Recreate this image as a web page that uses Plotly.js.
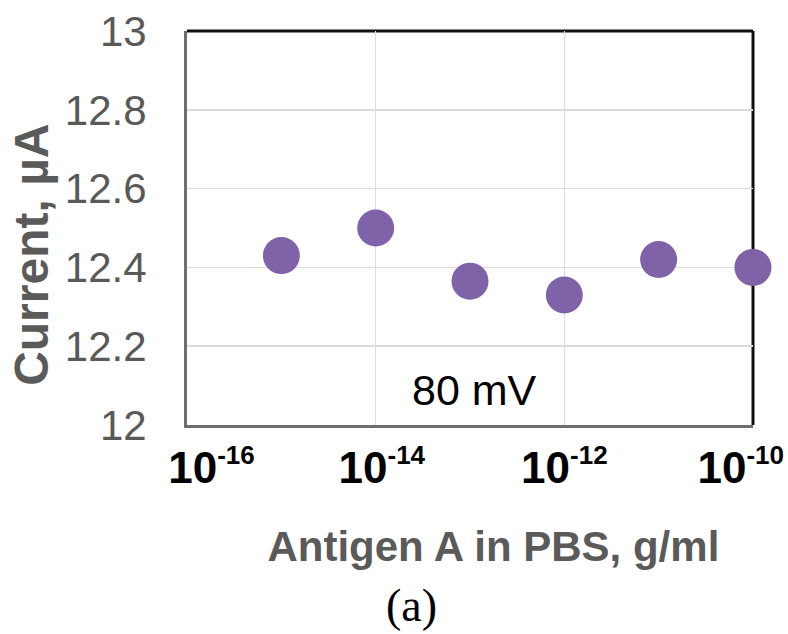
<!DOCTYPE html>
<html>
<head>
<meta charset="utf-8">
<script src="https://cdn.plot.ly/plotly-3.0.1.min.js"></script>
<style>html,body{margin:0;padding:0;background:#fff;}#chart{width:788px;height:634px;}</style>
</head>
<body>
<div id="chart"></div>
<script>
const concentration = [1e-15, 1e-14, 1e-13, 1e-12, 1e-11, 1e-10];
const current = [12.43, 12.50, 12.365, 12.33, 12.42, 12.40];
const xTickVals = [1e-16, 1e-14, 1e-12, 1e-10];
const xTickText = [
  '\u00a0\u00a0\u00a0\u00a010<sup><span style="font-size:26px">-16</span></sup>',
  '\u00a010<sup><span style="font-size:26px">-14</span></sup>',
  '10<sup><span style="font-size:26px">-12</span></sup>',
  '10<sup><span style="font-size:26px">-10</span></sup>\u00a0\u00a0'
];
const yTickVals = [12, 12.2, 12.4, 12.6, 12.8, 13];
const yTickText = ['12', '12.2', '12.4', '12.6', '12.8', '13'];
const pad = '<span style="color:rgba(0,0,0,0)">xx</span>';
const xTitle = pad + 'Antigen A in PBS, g/ml';
const yTitle = 'Current, µA' + pad;

const trace = {
  x: concentration,
  y: current,
  type: 'scatter',
  mode: 'markers',
  marker: {color: '#7F62A8', size: 37},
  cliponaxis: false,
  hoverinfo: 'x+y'
};

const layout = {
  width: 788, height: 634,
  margin: {l: 187, r: 35, t: 31, b: 209},
  paper_bgcolor: '#ffffff',
  plot_bgcolor: '#ffffff',
  showlegend: false,
  font: {family: 'Liberation Sans, Arial, sans-serif'},
  xaxis: {
    type: 'log',
    range: [-16.0005, -9.9995],
    tickvals: xTickVals,
    ticktext: xTickText,
    tickfont: {size: 44, color: '#000000', weight: 'bold'},
    ticks: '',
    ticklabelstandoff: 2,
    ticklabeloverflow: 'allow',
    showgrid: true,
    gridcolor: '#dcdcdc',
    gridwidth: 1.5,
    zeroline: false,
    showline: true,
    linecolor: '#6e6e6e',
    linewidth: 3,
    automargin: false,
    title: {text: xTitle, font: {size: 42, color: '#5a5a5a', weight: 'bold'}, standoff: 41}
  },
  yaxis: {
    range: [12, 13],
    tickvals: yTickVals,
    ticktext: yTickText,
    tickfont: {size: 42, color: '#595959'},
    ticks: '',
    ticklabelstandoff: 29,
    showgrid: true,
    gridcolor: '#dcdcdc',
    gridwidth: 1.5,
    zeroline: false,
    showline: true,
    linecolor: '#6e6e6e',
    linewidth: 3,
    automargin: false,
    title: {text: yTitle, font: {size: 48, color: '#5a5a5a', weight: 'bold'}, standoff: 2}
  },
  shapes: [
    {type: 'line', xref: 'paper', yref: 'paper', x0: 0, x1: 1, y0: 1, y1: 1, line: {color: '#111111', width: 3}, layer: 'below'},
    {type: 'line', xref: 'paper', yref: 'paper', x0: 1, x1: 1, y0: 0, y1: 1, line: {color: '#111111', width: 3}, layer: 'below'}
  ],
  annotations: [
    {text: '80 mV', xref: 'paper', yref: 'paper', x: 0.508, y: 0.089, xanchor: 'center', yanchor: 'middle', showarrow: false, font: {size: 43, color: '#000000'}},
    {text: '(a)', xref: 'paper', yref: 'paper', x: 0.397, y: -0.458, xanchor: 'center', yanchor: 'middle', showarrow: false, font: {size: 46, color: '#000000', family: 'Liberation Serif, Times New Roman, serif'}}
  ]
};

Plotly.newPlot('chart', [trace], layout, {displayModeBar: false, staticPlot: true});
</script>
</body>
</html>
